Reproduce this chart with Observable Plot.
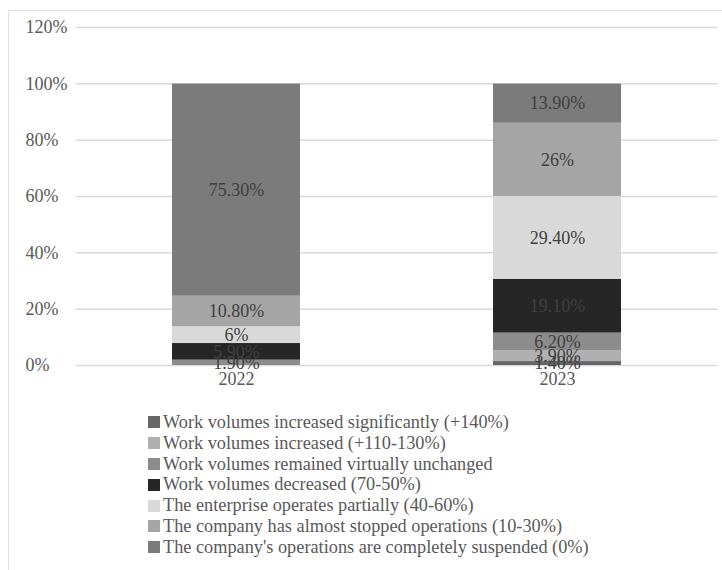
<!DOCTYPE html>
<html>
<head>
<meta charset="utf-8">
<script src="https://cdn.jsdelivr.net/npm/d3@7"></script>
<script src="https://cdn.jsdelivr.net/npm/@observablehq/plot@0.6"></script>
<style>
  html, body { margin: 0; padding: 0; background: #fff; }
  #wrap { position: relative; width: 722px; height: 570px; overflow: hidden; font-family: "Liberation Serif", serif; }
  #frame { position: absolute; left: 8px; top: 10px; width: 720px; height: 570px; border-left: 1.5px solid #e3e3e3; border-top: 1.5px solid #e3e3e3; box-sizing: border-box; }
  #chart { position: absolute; left: 0; top: 0; }
  #legend { position: absolute; left: 148px; top: 412px; color: #595959; font-size: 18.3px; font-family: "Liberation Serif", serif; }
  .row { display: flex; align-items: center; height: 20.8px; white-space: nowrap; }
  .sw { width: 12px; height: 12px; margin-right: 3px; flex: none; }
</style>
</head>
<body>
<div id="wrap">
  <div id="frame"></div>
  <div id="chart"></div>
  <div id="legend"></div>
</div>
<script>
const years = ["2022", "2023"];
const series = [
  "Work volumes increased significantly (+140%)",
  "Work volumes increased (+110-130%)",
  "Work volumes remained virtually unchanged",
  "Work volumes decreased (70-50%)",
  "The enterprise operates partially (40-60%)",
  "The company has almost stopped operations (10-30%)",
  "The company's operations are completely suspended (0%)"
];
const values2022 = [0, 0, 1.9, 5.9, 6, 10.8, 75.3];
const values2023 = [1.4, 3.9, 6.2, 19.1, 29.4, 26, 13.9];
const colors = ["#666666", "#b0b0b0", "#8c8c8c", "#262626", "#d9d9d9", "#a5a5a5", "#7b7b7b"];
const yTicks = [0, 20, 40, 60, 80, 100, 120];

const data = [];
[values2022, values2023].forEach((vals, yi) => {
  vals.forEach((v, si) => data.push({year: years[yi], series: series[si], value: v}));
});
const fmt = v => Number.isInteger(v) ? v + "%" : v.toFixed(2) + "%";
const font = "'Liberation Serif', serif";

const chart = Plot.plot({
  width: 722,
  height: 400,
  marginLeft: 75.5,
  marginRight: 4.5,
  marginTop: 27,
  marginBottom: 35,
  style: {fontFamily: font, background: "transparent", overflow: "visible"},
  x: {domain: years, paddingInner: 0.6, paddingOuter: 0.3, axis: null},
  y: {domain: [0, 120], axis: null},
  color: {domain: series, range: colors},
  marks: [
    Plot.ruleY(yTicks, {stroke: "#d9d9d9", strokeWidth: 1.5}),
    Plot.text(yTicks, {y: d => d, text: d => d + "%", frameAnchor: "left", textAnchor: "start", dx: -50.5, fill: "#595959", fontSize: 18, fontFamily: font}),
    Plot.barY(data.filter(d => d.value > 0), {x: "year", y: "value", z: "series", fill: "series", order: series}),
    Plot.text(data.filter(d => d.value > 0), Plot.stackY({x: "year", y: "value", z: "series", order: series, text: d => fmt(d.value), fill: "#404040", fontSize: 18, fontFamily: font})),
    Plot.text(years, {x: d => d, text: d => d, frameAnchor: "bottom", dy: 19, fill: "#595959", fontSize: 18, fontFamily: font})
  ]
});
document.getElementById("chart").appendChild(chart);

const legend = document.getElementById("legend");
series.forEach((s, i) => {
  const row = document.createElement("div");
  row.className = "row";
  const sw = document.createElement("span");
  sw.className = "sw";
  sw.style.background = colors[i];
  const t = document.createElement("span");
  t.textContent = s;
  row.appendChild(sw);
  row.appendChild(t);
  legend.appendChild(row);
});
</script>
</body>
</html>
